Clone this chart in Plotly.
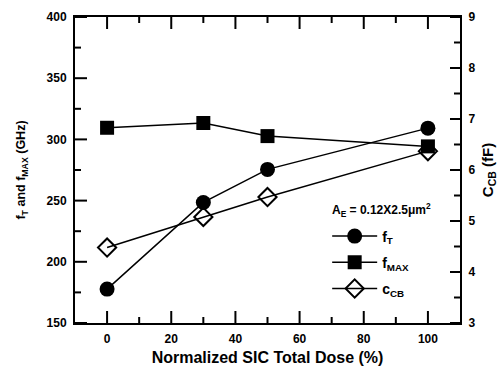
import plotly.graph_objects as go

dose = [0, 30, 50, 100]
fT = [177.7, 248.5, 275.5, 309.2]
fMAX = [309.5, 313.4, 302.7, 294.3]
CCB = [4.48, 5.08, 5.47, 6.37]

x_major = [0, 20, 40, 60, 80, 100]
x_minor = [10, 30, 50, 70, 90]
y_major = [150, 200, 250, 300, 350, 400]
y_minor = [175, 225, 275, 325, 375]
y2_major = [3, 4, 5, 6, 7, 8, 9]
y2_minor = [3.5, 4.5, 5.5, 6.5, 7.5, 8.5]

FONT = "Liberation Sans, Arial, sans-serif"
line = dict(color="black", width=1.5)
MAJOR, MINOR, MAJOR_R = 12, 6, 10

fig = go.Figure()
fig.add_trace(go.Scatter(x=dose, y=fT, mode="lines+markers", name="f<sub>T</sub>", legendgroup="a",
                         line=line, marker=dict(symbol="circle", size=15, color="black")))
fig.add_trace(go.Scatter(x=dose, y=fMAX, mode="lines+markers", name="f<sub>MAX</sub>", legendgroup="b",
                         line=line, marker=dict(symbol="square", size=14, color="black")))
fig.add_trace(go.Scatter(x=dose, y=CCB, mode="lines+markers", name="c<sub>CB</sub>", yaxis="y2",
                         legendgroup="c",
                         line=line, marker=dict(symbol="diamond-open", size=14, color="black",
                                                line=dict(width=2, color="black"))))

tickfont = dict(family=FONT, size=12, color="black", weight="bold")
xtitlefont = dict(family=FONT, size=16, color="black", weight="bold")
ytitlefont = dict(family=FONT, size=12.5, color="black", weight="bold")
y2titlefont = dict(family=FONT, size=15, color="black", weight="bold")

axis_common = dict(ticks="", showline=True, linewidth=2, linecolor="black", showgrid=False,
                   zeroline=False, tickfont=tickfont, ticklabelstandoff=4)

fig.update_layout(
    width=504, height=374,
    margin=dict(l=75, r=40, t=10, b=44),
    plot_bgcolor="white", paper_bgcolor="white",
    showlegend=True,
    legend=dict(x=0.655, y=0.335, xanchor="left", yanchor="top", bgcolor="rgba(0,0,0,0)",
                font=dict(family=FONT, size=14, color="black", weight="bold"),
                traceorder="grouped", tracegroupgap=5, itemwidth=45),
    xaxis=dict(range=[-10, 110], tickvals=x_major, mirror=True,
               title=dict(text="Normalized SIC Total Dose (%)", font=xtitlefont, standoff=6),
               **axis_common),
    yaxis=dict(range=[150, 400], tickvals=y_major,
               title=dict(text="f<sub>T</sub> and f<sub>MAX</sub> (GHz)", font=ytitlefont, standoff=18),
               **axis_common),
    yaxis2=dict(range=[3, 9], tickvals=y2_major, overlaying="y", side="right", anchor="x",
                title=dict(text="C<sub>CB</sub> (fF)", font=y2titlefont, standoff=8),
                **axis_common),
)

tick_line = dict(color="black", width=2)

# x-axis ticks (bottom, pointing up; mirrored on top, pointing down)
for vals, ln in ((x_major, MAJOR), (x_minor, MINOR)):
    for v in vals:
        fig.add_shape(type="line", xref="x", yref="paper", ysizemode="pixel", yanchor=0,
                      x0=v, x1=v, y0=0, y1=ln, line=tick_line)
        fig.add_shape(type="line", xref="x", yref="paper", ysizemode="pixel", yanchor=1,
                      x0=v, x1=v, y0=0, y1=-ln, line=tick_line)

# left y-axis ticks (pointing right)
for vals, ln in ((y_major, MAJOR), (y_minor, MINOR)):
    for v in vals:
        fig.add_shape(type="line", xref="paper", yref="y", xsizemode="pixel", xanchor=0,
                      x0=0, x1=ln, y0=v, y1=v, line=tick_line)

# right y-axis ticks (pointing left)
for vals, ln in ((y2_major, MAJOR_R), (y2_minor, MINOR)):
    for v in vals:
        fig.add_shape(type="line", xref="paper", yref="y2", xsizemode="pixel", xanchor=1,
                      x0=0, x1=-ln, y0=v, y1=v, line=tick_line)

fig.add_annotation(x=0.663, y=0.37, xref="paper", yref="paper", xanchor="left", yanchor="middle",
                   text="A<sub>E</sub> = 0.12X2.5μm<sup>2</sup>", showarrow=False,
                   font=dict(family=FONT, size=12, color="black", weight="bold"))

fig.write_html("out.html")
